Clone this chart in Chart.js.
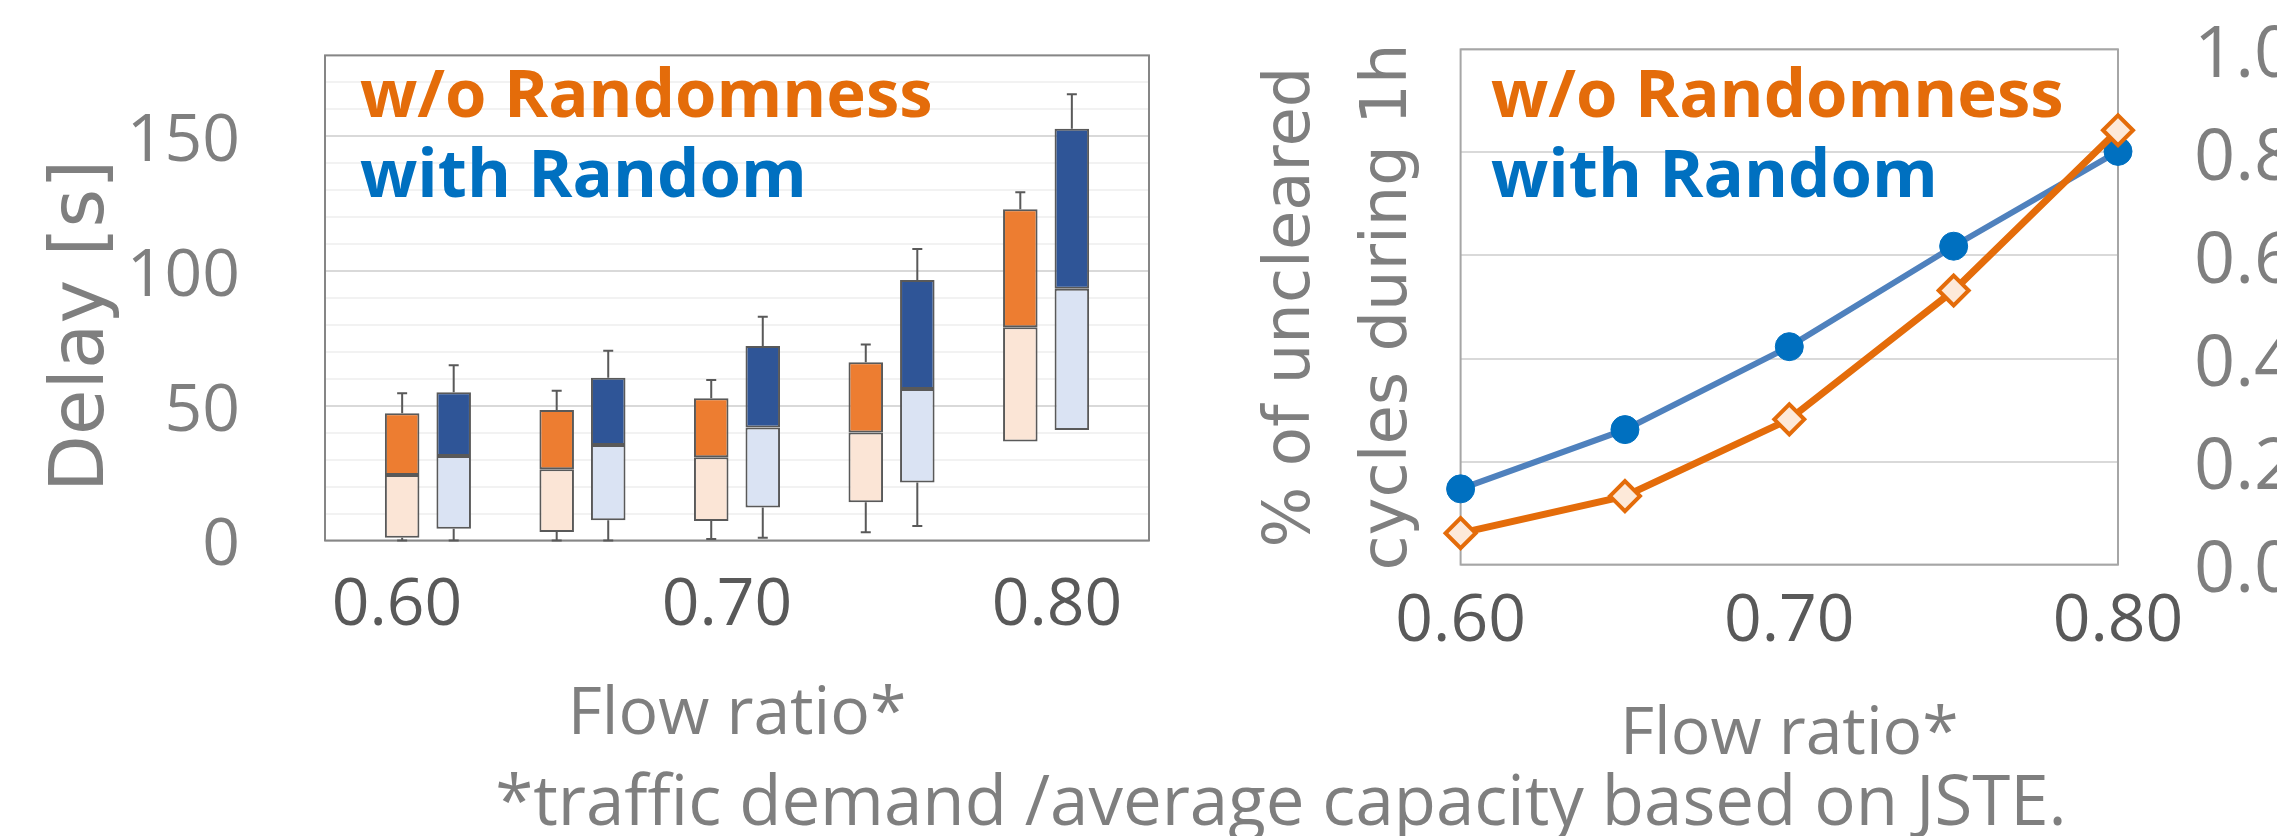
<!DOCTYPE html>
<html>
<head>
<meta charset="utf-8">
<script src="https://cdn.jsdelivr.net/npm/chart.js@4.4.1/dist/chart.umd.min.js"></script>
<style>
  html, body { margin: 0; padding: 0; background: #fff; overflow: hidden; }
  body { width: 2277px; height: 836px; position: relative; }
  .box { position: absolute; top: 0; height: 836px; }
  #leftBox { left: 0; width: 1200px; }
  #rightBox { left: 1200px; width: 1200px; }
  #note { position: absolute; left: 0; width: 2562px; top: 764px; text-align: center;
          font: 69px/1 'Open Sans'; color: #7f7f7f; white-space: nowrap; }
</style>
</head>
<body>
<div class="box" id="leftBox"><canvas id="delayChart"></canvas></div>
<div class="box" id="rightBox"><canvas id="unclearedChart"></canvas></div>
<div id="note">*traffic demand /average capacity based on JSTE.</div>
<script>
const flowRatio = [0.60, 0.65, 0.70, 0.75, 0.80];
const seriesNames = ['w/o Randomness', 'with Random'];

// delay [s], box plots
const noRandMin = [0, 0, 0.6, 3.1, 36.7];
const noRandQ1 = [1.0, 3.2, 7.2, 14.2, 36.7];
const noRandMed = [24.3, 26.4, 30.9, 40.1, 79.1];
const noRandQ3 = [47.2, 48.4, 52.8, 66.1, 122.9];
const noRandMax = [54.6, 55.6, 59.6, 72.7, 129.2];

const randMin = [0, 0, 1.0, 5.4, 41.0];
const randQ1 = [4.4, 7.5, 12.2, 21.5, 41.0];
const randMed = [31.4, 35.4, 41.9, 56.2, 93.4];
const randQ3 = [55.0, 60.4, 72.2, 96.7, 152.8];
const randMax = [65.0, 70.4, 83.0, 108.2, 165.6];

// share of uncleared cycles during 1h
const unclearedNoRand = [0.061, 0.133, 0.282, 0.532, 0.843];
const unclearedRand = [0.147, 0.262, 0.423, 0.618, 0.802];

const delayTicks = [0, 50, 100, 150];
const flowTicks = [0.60, 0.70, 0.80];
const shareTicks = [0, 0.2, 0.4, 0.6, 0.8, 1.0];

const GREY = '#7f7f7f';
const DARK = '#595959';
const ORANGE = '#e46c0a';
const BLUE = '#0070c0';
const NONE = 'rgba(0,0,0,0)';

const pts = (ys) => flowRatio.map((x, i) => ({ x, y: ys[i] }));
const range = (lo, hi) => flowRatio.map((x, i) => ({ x, y: [lo[i], hi[i]] }));

function boxSets(name, stack, light, dark, min, q1, med, q3, max) {
    const common = {
        label: name, stack, xAxisID: 'x', yAxisID: 'y',
        categoryPercentage: 0.667, barPercentage: 0.67,
        borderColor: DARK, borderWidth: 2, borderSkipped: false
    };
    return [
        { ...common, data: range(q1, med), backgroundColor: light, whiskers: { min, q1, q3, max } },
        { ...common, data: range(med, q3), backgroundColor: dark }
    ];
}

// outline round the plot area
const framePlugin = {
    id: 'frame',
    beforeDatasetsDraw(chart, args, opts) {
        const { left, top, width, height } = chart.chartArea;
        const ctx = chart.ctx;
        ctx.save();
        ctx.strokeStyle = opts.color;
        ctx.lineWidth = 2;
        ctx.strokeRect(left, top, width, height);
        ctx.restore();
    }
};

// whiskers for the box plots, hung on the lower box dataset
const whiskerPlugin = {
    id: 'whiskers',
    beforeDatasetsDraw(chart) {
        const ctx = chart.ctx;
        const y = chart.scales.y;
        chart.data.datasets.forEach((ds, di) => {
            if (!ds.whiskers) return;
            const w = ds.whiskers;
            const meta = chart.getDatasetMeta(di);
            ctx.save();
            ctx.strokeStyle = DARK;
            ctx.lineWidth = 2;
            meta.data.forEach((bar, i) => {
                [[w.min[i], w.q1[i]], [w.max[i], w.q3[i]]].forEach(([end, edge]) => {
                    if (end === edge) return;
                    const ye = y.getPixelForValue(end);
                    const yb = y.getPixelForValue(edge);
                    ctx.beginPath();
                    ctx.moveTo(bar.x, yb);
                    ctx.lineTo(bar.x, ye);
                    ctx.moveTo(bar.x - 5, ye);
                    ctx.lineTo(bar.x + 5, ye);
                    ctx.stroke();
                });
            });
            ctx.restore();
        });
    }
};

// series names written inside the plot
const inlineLegend = {
    id: 'inlineLegend',
    beforeDatasetsDraw(chart, args, opts) {
        const ctx = chart.ctx;
        const a = chart.chartArea;
        ctx.save();
        ctx.font = 'bold 67px "Open Sans"';
        ctx.textBaseline = 'alphabetic';
        opts.colors.forEach((c, i) => {
            ctx.fillStyle = c;
            ctx.fillText(seriesNames[i], a.left + opts.dx, a.top + opts.dy + i * opts.gap);
        });
        ctx.restore();
    }
};

// rotated y caption; in the original it sits below the middle of the axis
const sideTitle = {
    id: 'sideTitle',
    afterDraw(chart, args, opts) {
        const ctx = chart.ctx;
        ctx.save();
        ctx.translate(opts.x, chart.chartArea.bottom - opts.fromBottom);
        ctx.rotate(-Math.PI / 2);
        ctx.font = opts.font;
        ctx.fillStyle = opts.color;
        ctx.textAlign = 'left';
        ctx.textBaseline = 'alphabetic';
        ctx.fillText(opts.text, 0, 0);
        ctx.restore();
    }
};

const tickFont = { family: 'Open Sans', size: 66 };
const titleFont = { family: 'Open Sans', size: 66 };

window.onload = () => {
    new Chart(document.getElementById('delayChart'), {
        type: 'bar',
        data: {
            datasets: [
                ...boxSets(seriesNames[0], 'noRand', '#fbe5d6', '#ed7d31',
                    noRandMin, noRandQ1, noRandMed, noRandQ3, noRandMax),
                ...boxSets(seriesNames[1], 'rand', '#dae3f3', '#2f5597',
                    randMin, randQ1, randMed, randQ3, randMax)
            ]
        },
        plugins: [framePlugin, whiskerPlugin, inlineLegend, sideTitle],
        options: {
            responsive: true,
            maintainAspectRatio: false,
            animation: false,
            layout: { padding: { top: 55.4, right: 51 } },
            plugins: {
                legend: { display: false },
                tooltip: { enabled: false },
                frame: { color: '#868686' },
                inlineLegend: { colors: [ORANGE, BLUE], dx: 35, dy: 62, gap: 79.4 },
                sideTitle: {
                    text: 'Delay [s]', x: 103, fromBottom: 48.5,
                    font: '74px "DejaVu Sans"', color: GREY
                }
            },
            scales: {
                x: {
                    type: 'linear', display: false, offset: false,
                    min: 0.5667, max: 0.8333,
                    afterBuildTicks: (s) => { s.ticks = flowRatio.map(v => ({ value: v })); },
                    grid: { offset: false }
                },
                // label axis: the tick labels sit a little off the box groups in the original
                xl: {
                    type: 'linear', position: 'bottom', offset: false,
                    min: 0.5782, max: 0.8279,
                    afterBuildTicks: (s) => { s.ticks = flowTicks.map(v => ({ value: v })); },
                    afterFit: (s) => { s.height = 295.5; },
                    grid: { display: false, offset: false },
                    border: { display: false },
                    ticks: {
                        font: tickFont, color: DARK, padding: 18,
                        maxRotation: 0, autoSkip: false,
                        callback: (v) => v.toFixed(2)
                    },
                    title: {
                        display: true, text: 'Flow ratio*',
                        font: titleFont, color: GREY,
                        padding: { top: 0, bottom: 81 }
                    }
                },
                y: {
                    min: 0, max: 180, stacked: false,
                    afterFit: (s) => { s.width = 325; },
                    border: { display: false },
                    grid: {
                        lineWidth: 2, tickLength: 85, tickColor: NONE,
                        color: (c) => (c.tick && c.tick.value % 50 === 0) ? '#d9d9d9' : '#f2f2f2'
                    },
                    ticks: {
                        stepSize: 10, autoSkip: false, padding: 0, labelOffset: 6,
                        font: tickFont, color: GREY,
                        callback: (v) => delayTicks.includes(v) ? String(v) : ''
                    }
                }
            }
        }
    });

    new Chart(document.getElementById('unclearedChart'), {
        type: 'line',
        data: {
            datasets: [
                {
                    label: seriesNames[0], data: pts(unclearedNoRand),
                    xAxisID: 'x', yAxisID: 'y', clip: false, tension: 0,
                    borderColor: ORANGE, borderWidth: 7,
                    pointStyle: 'rectRot', pointRadius: 15, pointBorderWidth: 4,
                    pointBackgroundColor: '#fde9d9', pointBorderColor: ORANGE
                },
                {
                    label: seriesNames[1], data: pts(unclearedRand),
                    xAxisID: 'x', yAxisID: 'y', clip: false, tension: 0,
                    borderColor: '#4f81bd', borderWidth: 6,
                    pointStyle: 'circle', pointRadius: 14, pointBorderWidth: 1,
                    pointBackgroundColor: BLUE, pointBorderColor: BLUE
                }
            ]
        },
        plugins: [framePlugin, inlineLegend],
        options: {
            responsive: true,
            maintainAspectRatio: false,
            animation: false,
            layout: { padding: { top: 49.4 } },
            plugins: {
                legend: { display: false },
                tooltip: { enabled: false },
                frame: { color: '#a6a6a6' },
                inlineLegend: { colors: [ORANGE, BLUE], dx: 30.4, dy: 68, gap: 79.6 }
            },
            scales: {
                x: {
                    type: 'linear', min: 0.6, max: 0.8,
                    afterBuildTicks: (s) => { s.ticks = flowTicks.map(v => ({ value: v })); },
                    afterFit: (s) => { s.height = 271.4; },
                    grid: { display: false },
                    border: { display: false },
                    ticks: {
                        font: tickFont, color: DARK, padding: 10,
                        maxRotation: 0, autoSkip: false,
                        callback: (v) => v.toFixed(2)
                    },
                    title: {
                        display: true, text: 'Flow ratio*',
                        font: titleFont, color: GREY,
                        padding: { top: 0, bottom: 61 }
                    }
                },
                y: {
                    position: 'right', min: 0, max: 1,
                    afterBuildTicks: (s) => { s.ticks = shareTicks.map(v => ({ value: v })); },
                    afterFit: (s) => { s.width = 282; },
                    border: { display: false },
                    grid: { color: '#d9d9d9', lineWidth: 2, tickLength: 76, tickColor: NONE },
                    ticks: {
                        padding: 0, autoSkip: false, labelOffset: 7,
                        font: { family: 'Open Sans', size: 72 }, color: GREY,
                        callback: (v) => v.toFixed(1)
                    }
                },
                yt: {
                    position: 'left', min: 0, max: 1,
                    afterFit: (s) => { s.width = 260.6; },
                    grid: { display: false, drawTicks: false },
                    border: { display: false },
                    ticks: { display: false, padding: 0 },
                    title: {
                        display: true, text: ['% of uncleared', 'cycles during 1h'],
                        font: { family: 'DejaVu Sans', size: 64, lineHeight: 1.516 }, color: GREY,
                        padding: { top: 44 }
                    }
                }
            }
        }
    });
};
</script>
</body>
</html>
